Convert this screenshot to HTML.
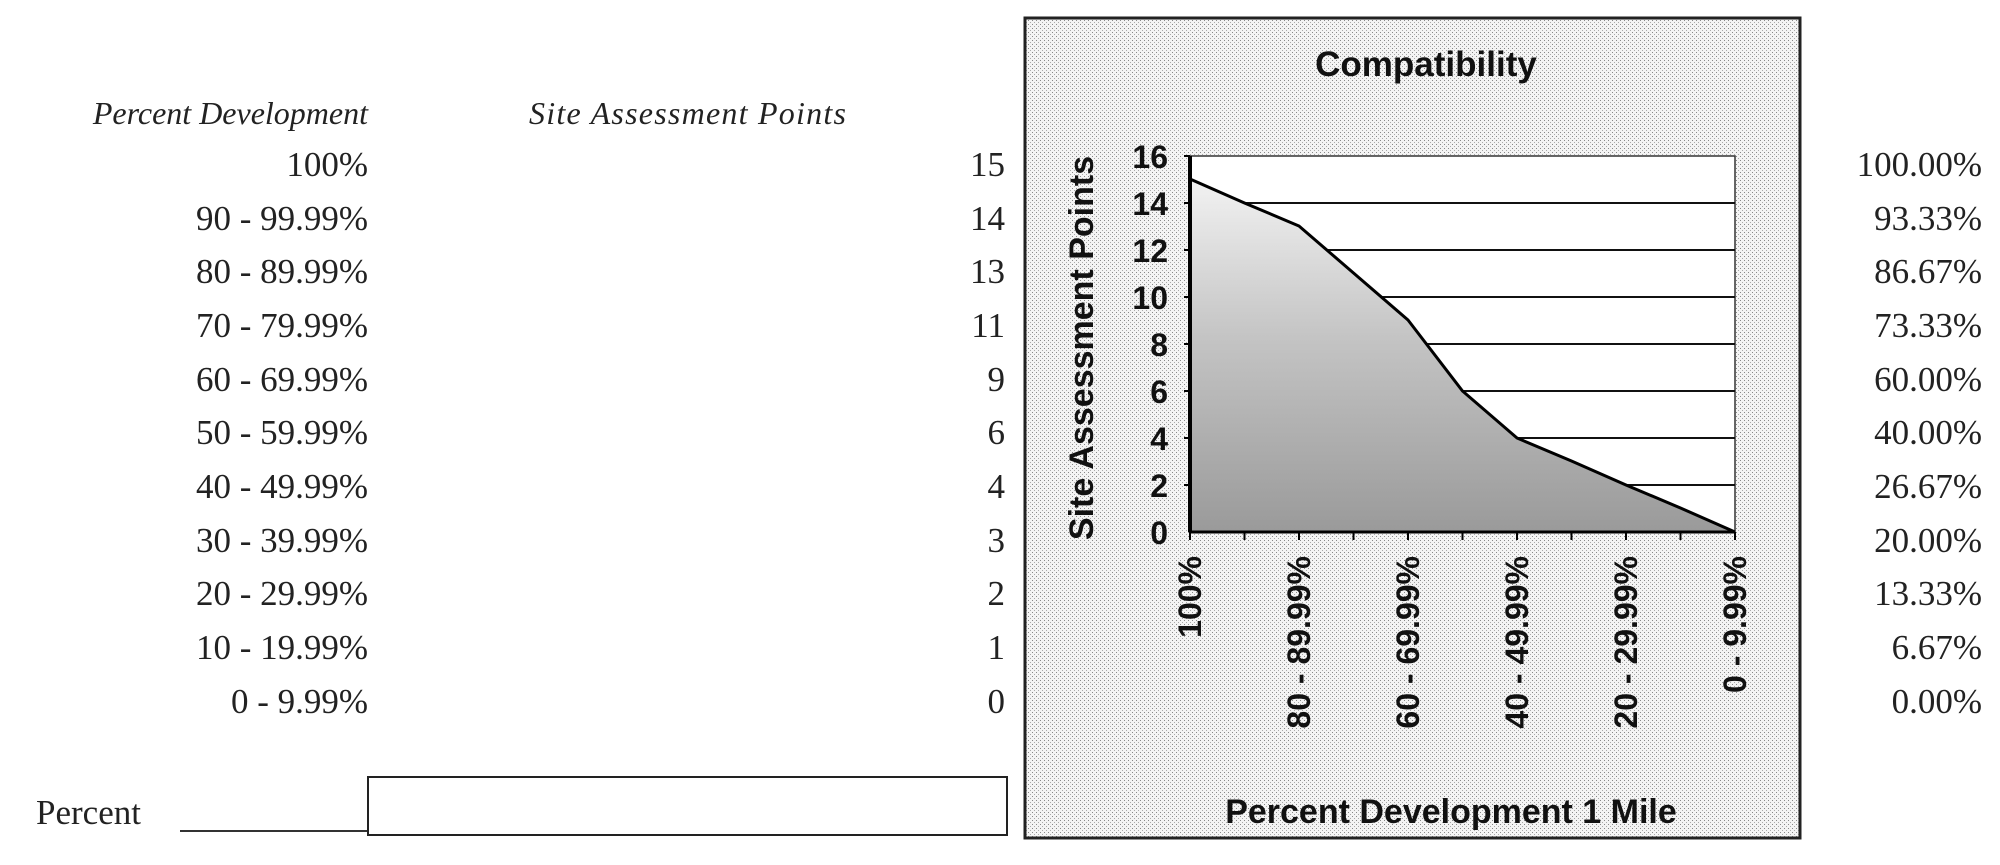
<!DOCTYPE html>
<html><head><meta charset="utf-8"><style>
html,body{margin:0;padding:0;background:#fff;}
svg{display:block;}
.s{font-family:"Liberation Serif",serif;font-size:35px;fill:#222;}
.b{font-family:"Liberation Sans",sans-serif;font-weight:bold;fill:#111;}
</style></head><body>
<svg width="2000" height="865" viewBox="0 0 2000 865" xmlns="http://www.w3.org/2000/svg">
<defs>
<pattern id="dots" width="4" height="4" patternUnits="userSpaceOnUse">
<rect width="4" height="4" fill="#f4f4f4"/>
<rect x="0" y="0" width="1" height="1" fill="#888"/>
<rect x="2" y="2" width="1" height="1" fill="#aaa"/>
</pattern>
<linearGradient id="g" x1="0" y1="0" x2="0" y2="1">
<stop offset="0" stop-color="#f2f2f2"/>
<stop offset="0.45" stop-color="#c4c4c4"/>
<stop offset="1" stop-color="#9a9a9a"/>
</linearGradient>
</defs>
<g class="s" font-style="italic">
<text x="368" y="124" text-anchor="end" font-size="32">Percent Development</text>
<text x="529" y="124" font-size="32" textLength="317">Site Assessment Points</text>
</g>
<g class="s" text-anchor="end">
<text x="368" y="176">100%</text><text x="368" y="230">90 - 99.99%</text><text x="368" y="283">80 - 89.99%</text>
<text x="368" y="337">70 - 79.99%</text><text x="368" y="391">60 - 69.99%</text><text x="368" y="444">50 - 59.99%</text>
<text x="368" y="498">40 - 49.99%</text><text x="368" y="552">30 - 39.99%</text><text x="368" y="605">20 - 29.99%</text>
<text x="368" y="659">10 - 19.99%</text><text x="368" y="713">0 - 9.99%</text>
<text x="1005" y="176">15</text><text x="1005" y="230">14</text><text x="1005" y="283">13</text>
<text x="1005" y="337">11</text><text x="1005" y="391">9</text><text x="1005" y="444">6</text>
<text x="1005" y="498">4</text><text x="1005" y="552">3</text><text x="1005" y="605">2</text>
<text x="1005" y="659">1</text><text x="1005" y="713">0</text>
<text x="1982" y="176">100.00%</text><text x="1982" y="230">93.33%</text><text x="1982" y="283">86.67%</text>
<text x="1982" y="337">73.33%</text><text x="1982" y="391">60.00%</text><text x="1982" y="444">40.00%</text>
<text x="1982" y="498">26.67%</text><text x="1982" y="552">20.00%</text><text x="1982" y="605">13.33%</text>
<text x="1982" y="659">6.67%</text><text x="1982" y="713">0.00%</text>
</g>
<text class="s" x="36" y="824">Percent</text>
<line x1="180" y1="831" x2="368" y2="831" stroke="#333" stroke-width="2"/>
<rect x="368" y="777" width="639" height="58" fill="none" stroke="#222" stroke-width="2"/>
<rect x="1025" y="18" width="775" height="820" fill="url(#dots)" stroke="#222" stroke-width="3"/>
<text class="b" x="1426" y="76" text-anchor="middle" font-size="35">Compatibility</text>
<rect x="1190" y="156" width="545" height="376" fill="#fff" stroke="#333" stroke-width="1.5"/>
<g stroke="#111" stroke-width="2">
<line x1="1190" y1="203" x2="1735" y2="203"/><line x1="1190" y1="250" x2="1735" y2="250"/>
<line x1="1190" y1="297" x2="1735" y2="297"/><line x1="1190" y1="344" x2="1735" y2="344"/>
<line x1="1190" y1="391" x2="1735" y2="391"/><line x1="1190" y1="438" x2="1735" y2="438"/>
<line x1="1190" y1="485" x2="1735" y2="485"/>
</g>
<path d="M1190,532 L1190,179 L1244.5,203 L1299,226 L1353.5,273 L1408,320 L1462.5,391 L1517,438 L1571.5,461 L1626,485 L1680.5,508 L1735,532 Z" fill="url(#g)" stroke="none"/>
<polyline points="1190,179 1244.5,203 1299,226 1353.5,273 1408,320 1462.5,391 1517,438 1571.5,461 1626,485 1680.5,508 1735,532" fill="none" stroke="#000" stroke-width="3"/>
<line x1="1190" y1="156" x2="1190" y2="532" stroke="#000" stroke-width="4"/>
<line x1="1190" y1="532" x2="1735" y2="532" stroke="#000" stroke-width="3"/>
<g stroke="#000" stroke-width="2">
<line x1="1184" y1="156" x2="1190" y2="156"/><line x1="1184" y1="203" x2="1190" y2="203"/><line x1="1184" y1="250" x2="1190" y2="250"/><line x1="1184" y1="297" x2="1190" y2="297"/><line x1="1184" y1="344" x2="1190" y2="344"/><line x1="1184" y1="391" x2="1190" y2="391"/><line x1="1184" y1="438" x2="1190" y2="438"/><line x1="1184" y1="485" x2="1190" y2="485"/>
<line x1="1190" y1="532" x2="1190" y2="540"/><line x1="1244.5" y1="532" x2="1244.5" y2="540"/><line x1="1299" y1="532" x2="1299" y2="540"/><line x1="1353.5" y1="532" x2="1353.5" y2="540"/><line x1="1408" y1="532" x2="1408" y2="540"/><line x1="1462.5" y1="532" x2="1462.5" y2="540"/><line x1="1517" y1="532" x2="1517" y2="540"/><line x1="1571.5" y1="532" x2="1571.5" y2="540"/><line x1="1626" y1="532" x2="1626" y2="540"/><line x1="1680.5" y1="532" x2="1680.5" y2="540"/><line x1="1735" y1="532" x2="1735" y2="540"/>
</g>
<g class="b" font-size="32" text-anchor="end">
<text x="1168" y="168">16</text><text x="1168" y="215">14</text><text x="1168" y="262">12</text><text x="1168" y="309">10</text><text x="1168" y="356">8</text><text x="1168" y="403">6</text><text x="1168" y="450">4</text><text x="1168" y="497">2</text><text x="1168" y="544">0</text>
</g>
<text class="b" font-size="34" text-anchor="middle" transform="translate(1093,348) rotate(-90)">Site Assessment Points</text>
<g class="b" font-size="32" text-anchor="end">
<text transform="translate(1201,556) rotate(-90)">100%</text>
<text transform="translate(1310,556) rotate(-90)">80 - 89.99%</text>
<text transform="translate(1419,556) rotate(-90)">60 - 69.99%</text>
<text transform="translate(1528,556) rotate(-90)">40 - 49.99%</text>
<text transform="translate(1637,556) rotate(-90)">20 - 29.99%</text>
<text transform="translate(1746,556) rotate(-90)">0 - 9.99%</text>
</g>
<text class="b" x="1451" y="823" text-anchor="middle" font-size="34">Percent Development 1 Mile</text>
</svg>
</body></html>
